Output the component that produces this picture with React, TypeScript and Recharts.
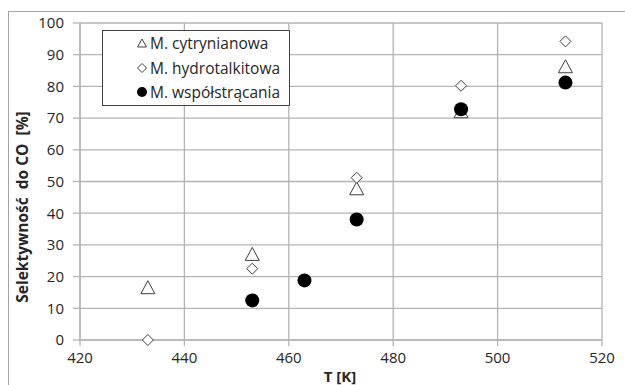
import { ScatterChart, Scatter, XAxis, YAxis, CartesianGrid, Label } from 'recharts';

// T [K] and selectivity to CO [%] for each preparation method
const citrateT = [433, 453, 473, 493, 513];
const citrateS = [16.5, 27, 47.7, 72, 86.2];

const hydrotalciteT = [433, 453, 473, 493, 513];
const hydrotalciteS = [0, 22.5, 51.2, 80.2, 94.2];

const coprecipT = [453, 463, 473, 493, 513];
const coprecipS = [12.5, 18.8, 38, 72.8, 81.2];

const xTicks = [420, 440, 460, 480, 500, 520];
const yTicks = [0, 10, 20, 30, 40, 50, 60, 70, 80, 90, 100];

const seriesNames = ['M. cytrynianowa', 'M. hydrotalkitowa', 'M. współstrącania'];

const toPoints = (xs: number[], ys: number[]) => xs.map((x, i) => ({ x, y: ys[i] }));

const FONT = '"Open Sans", "Noto Sans", sans-serif';
const GRID = '#b4b4b4';
const MARK = '#404040';
const TEXT = '#262626';

const Triangle = ({ cx, cy }: any) => (
  <polygon
    points={`${cx},${cy - 7} ${cx - 7},${cy + 6} ${cx + 7},${cy + 6}`}
    fill="#fff"
    stroke={MARK}
    strokeWidth={1}
  />
);

const Diamond = ({ cx, cy }: any) => (
  <polygon
    points={`${cx},${cy - 5.5} ${cx + 5.5},${cy} ${cx},${cy + 5.5} ${cx - 5.5},${cy}`}
    fill="#fff"
    stroke={MARK}
    strokeWidth={1}
  />
);

const Dot = ({ cx, cy }: any) => <circle cx={cx} cy={cy} r={7} fill="#000" />;

const legendIcons = [
  <polygon key="t" points="5,1 0.5,9 9.5,9" fill="#fff" stroke={MARK} />,
  <polygon key="d" points="5,0.5 9.5,5 5,9.5 0.5,5" fill="#fff" stroke={MARK} />,
  <circle key="c" cx={5} cy={5} r={5} fill="#000" />,
];

// row centres (page y) of the legend entries
const legendRowY = [43, 68, 92];

const LegendBox = () => (
  <div
    style={{
      position: 'absolute',
      left: 102,
      top: 30,
      width: 186,
      height: 74,
      border: '1px solid #404040',
      background: '#fff',
      fontFamily: FONT,
      fontSize: 15.5,
      color: TEXT,
    }}
  >
    {seriesNames.map((name, i) => (
      <div
        key={name}
        style={{
          position: 'absolute',
          left: 34,
          top: legendRowY[i] - 10 - 31,
          height: 20,
          lineHeight: '20px',
          display: 'flex',
          alignItems: 'center',
          whiteSpace: 'nowrap',
        }}
      >
        <svg width={10} height={10} style={{ marginRight: 3 }}>
          {legendIcons[i]}
        </svg>
        {name}
      </div>
    ))}
  </div>
);

const App = () => {
  return (
    <div
      style={{
        position: 'fixed',
        left: 0,
        top: 0,
        width: 625,
        height: 385,
        background: '#fff',
        overflow: 'hidden',
      }}
    >
      <div
        style={{
          position: 'absolute',
          left: 8,
          top: 11,
          width: 640,
          height: 400,
          border: '1px solid #a6a6a6',
        }}
      />
      <ScatterChart
        width={625}
        height={385}
        margin={{ top: 23, right: 23, bottom: 15, left: 40 }}
        style={{ position: 'absolute', left: 0, top: 0 }}
      >
        <CartesianGrid stroke={GRID} strokeWidth={1.3} />
        <XAxis
          type="number"
          dataKey="x"
          domain={[420, 520]}
          ticks={xTicks}
          interval={0}
          height={30}
          axisLine={{ stroke: GRID, strokeWidth: 1.3 }}
          tickLine={{ stroke: GRID, strokeWidth: 1.3 }}
          tickSize={6}
          tick={{ fill: TEXT, fontSize: 15, fontFamily: FONT }}
          tickMargin={6}
        >
          <Label
            content={() => (
              <text
                x={340}
                y={382}
                textAnchor="middle"
                fontFamily={FONT}
                fontSize={15}
                fontWeight="bold"
                fill={TEXT}
              >
                T [K]
              </text>
            )}
          />
        </XAxis>
        <YAxis
          type="number"
          dataKey="y"
          domain={[0, 100]}
          ticks={yTicks}
          interval={0}
          width={40}
          axisLine={{ stroke: GRID, strokeWidth: 1.3 }}
          tickLine={{ stroke: GRID, strokeWidth: 1.3 }}
          tickSize={7}
          tick={{ fill: TEXT, fontSize: 15, fontFamily: FONT }}
          tickMargin={9}
        >
          <Label
            content={() => (
              <text
                x={28}
                y={207}
                transform="rotate(-90 28 207)"
                textAnchor="middle"
                fontFamily={FONT}
                fontSize={15.5}
                fontWeight="bold"
                fill={TEXT}
                style={{ whiteSpace: 'pre' }}
              >
                Selektywność  do CO  [%]
              </text>
            )}
          />
        </YAxis>
        <Scatter
          name={seriesNames[0]}
          data={toPoints(citrateT, citrateS)}
          shape={Triangle}
          isAnimationActive={false}
        />
        <Scatter
          name={seriesNames[1]}
          data={toPoints(hydrotalciteT, hydrotalciteS)}
          shape={Diamond}
          isAnimationActive={false}
        />
        <Scatter
          name={seriesNames[2]}
          data={toPoints(coprecipT, coprecipS)}
          shape={Dot}
          isAnimationActive={false}
        />
      </ScatterChart>
      <LegendBox />
    </div>
  );
};

export default App;
